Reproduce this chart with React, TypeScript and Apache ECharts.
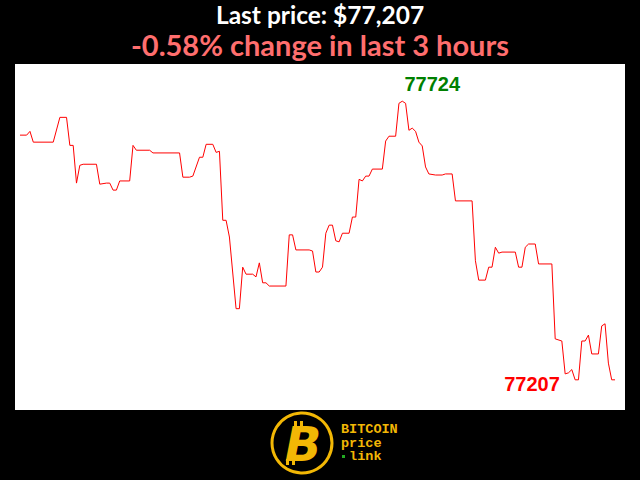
import React, { useEffect, useRef } from "react";
import * as echarts from "echarts";

const minutes = [0, 2, 3, 4, 10, 12, 14, 15, 16, 17, 18, 19, 23, 24, 26, 27, 28, 29, 30, 33, 34, 35, 39, 40, 48, 49, 51, 52, 54, 55, 56, 58, 59, 60, 61, 62, 63, 65, 66, 67, 68, 70, 71, 72, 73, 74, 75, 80, 81, 82, 83, 87, 88, 89, 90, 91, 92, 93, 94, 95, 96, 97, 99, 100, 101, 102, 103, 104, 105, 106, 109, 110, 111, 113, 114, 115, 116, 117, 118, 119, 120, 121, 122, 123, 125, 127, 128, 130, 131, 136, 137, 138, 140, 141, 142, 143, 144, 145, 149, 150, 151, 152, 153, 155, 156, 160, 161, 163, 164, 165, 166, 167, 168, 169, 170, 171, 172, 174, 175, 176, 177, 178, 179];
const prices = [77661, 77661, 77668, 77648, 77648, 77694, 77694, 77642, 77642, 77572, 77605, 77607, 77607, 77570, 77572, 77572, 77559, 77559, 77576, 77576, 77642, 77633, 77633, 77628, 77628, 77583, 77583, 77585, 77620, 77620, 77644, 77644, 77629, 77631, 77503, 77503, 77472, 77339, 77339, 77416, 77403, 77403, 77398, 77424, 77387, 77387, 77381, 77381, 77476, 77476, 77448, 77448, 77446, 77407, 77407, 77416, 77479, 77494, 77494, 77465, 77463, 77479, 77479, 77509, 77509, 77579, 77576, 77585, 77585, 77598, 77598, 77650, 77659, 77659, 77720, 77724, 77720, 77670, 77674, 77668, 77648, 77641, 77602, 77589, 77587, 77587, 77589, 77589, 77539, 77539, 77428, 77392, 77392, 77416, 77416, 77453, 77442, 77444, 77444, 77416, 77416, 77453, 77459, 77459, 77422, 77422, 77283, 77279, 77218, 77220, 77226, 77207, 77207, 77279, 77279, 77290, 77255, 77255, 77307, 77311, 77238, 77207, 77207];

const titleText = "Last price: $77,207";
const subtitleText = "-0.58% change in last 3 hours";
const logoLines = ["BITCOIN", "price", " link"];

export default function App() {
  const ref = useRef<HTMLDivElement>(null);
  useEffect(() => {
    if (!ref.current) return;
    const chart = echarts.init(ref.current, null, { renderer: "svg" });
    const data = minutes.map((m, i) => [m, prices[i]]);
    let maxI = 0;
    prices.forEach((p, i) => { if (p > prices[maxI]) maxI = i; });
    const lastI = prices.length - 1;
    const yellow = "#f2b705";
    chart.setOption({
      animation: false,
      backgroundColor: "#000000",
      title: [
        { text: titleText, left: "center", top: 2, padding: 0, textStyle: { color: "#ffffff", fontSize: 24.5, lineHeight: 24, fontWeight: "bold", fontFamily: "Lato" } },
        { text: subtitleText, left: "center", top: 30, padding: 0, textStyle: { color: "#ff6e6e", fontSize: 29, lineHeight: 29, fontWeight: "bold", fontFamily: "Lato" } },
      ],
      grid: { left: 15, right: 15, top: 64, bottom: 70, show: true, backgroundColor: "#ffffff", borderWidth: 0 },
      xAxis: { type: "value", min: -1.5, max: 182, show: false },
      yAxis: { type: "value", min: 77151, max: 77793, show: false },
      series: [
        {
          type: "line",
          data,
          symbol: "none",
          lineStyle: { color: "#ff0000", width: 1 },
          markPoint: {
            symbol: "circle",
            symbolSize: 0,
            data: [
              { coord: data[maxI], value: prices[maxI], label: { offset: [30, -17], color: "#008000" } },
              { coord: data[lastI], value: prices[lastI], label: { offset: [-83, 4], color: "#ff0000" } },
            ],
            label: { show: true, position: "inside", formatter: "{c}", fontSize: 20, fontWeight: "bold", fontFamily: "Liberation Sans" },
          },
        },
      ],
      graphic: [
        { type: "circle", shape: { cx: 302, cy: 443, r: 30 }, style: { fill: "#000", stroke: yellow, lineWidth: 3 } },
        { type: "rect", shape: { x: 294, y: 421, width: 3, height: 6 }, style: { fill: yellow } },
        { type: "rect", shape: { x: 300, y: 421, width: 3, height: 6 }, style: { fill: yellow } },
        { type: "rect", shape: { x: 286, y: 459, width: 3, height: 6 }, style: { fill: yellow } },
        { type: "rect", shape: { x: 292, y: 459, width: 3, height: 6 }, style: { fill: yellow } },
        { type: "text", x: 303, y: 444, style: { text: "B", fill: yellow, font: "italic 900 48px 'DejaVu Sans'", align: "center", verticalAlign: "middle" } },
        { type: "text", x: 341, y: 443, style: { text: logoLines.join("\n"), fill: yellow, font: "bold 13.5px 'Liberation Mono'", lineHeight: 13.5, verticalAlign: "middle" } },
        { type: "rect", shape: { x: 342, y: 455, width: 3, height: 3 }, style: { fill: "#22aa22" } },
      ],
    });
    return () => chart.dispose();
  }, []);
  return <div ref={ref} style={{ width: 640, height: 480, position: "fixed", left: 0, top: 0 }} />;
}
